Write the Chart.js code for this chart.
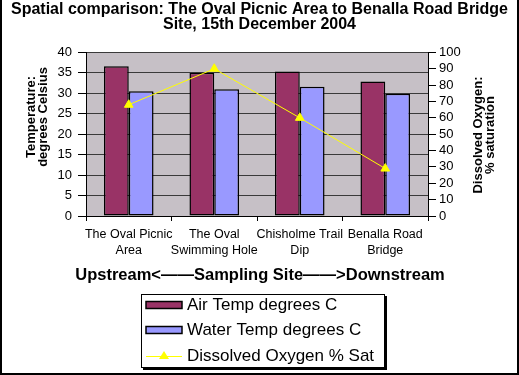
<!DOCTYPE html>
<html>
<head>
<meta charset="utf-8">
<script src="https://cdn.jsdelivr.net/npm/chart.js@4.4.1/dist/chart.umd.min.js"></script>
<style>
  body { margin: 0; background: #fff; }
  #wrap { width: 519px; height: 375px; }
</style>
</head>
<body>
<div id="wrap"><canvas id="chart" width="519" height="375"></canvas></div>
<script>
// values
const sites = [
    ['The Oval Picnic', 'Area'],
    ['The Oval', 'Swimming Hole'],
    ['Chisholme Trail', 'Dip'],
    ['Benalla Road', 'Bridge']
];
const airTemp = [36.6, 35.0, 35.3, 32.9];
const waterTemp = [30.5, 31.0, 31.6, 29.9];
const dissolvedOxygen = [68, 90, 60, 29];

const titleLines = ['Spatial comparison: The Oval Picnic Area to Benalla Road Bridge', 'Site, 15th December 2004'];
const leftTitle = ['Temperature:', 'degrees Celsius'];
const rightTitle = ['Dissolved Oxygen:', '% saturation'];
const xTitle = 'Upstream<\u2014\u2014Sampling Site\u2014\u2014>Downstream';

const FONT = '"Liberation Sans", Arial, sans-serif';

// grey plot background, frame, axis titles and the boxed legend
const decorations = {
    id: 'decorations',
    beforeDraw(chart) {
        const { ctx, chartArea: a } = chart;
        ctx.save();
        ctx.fillStyle = '#fff';
        ctx.fillRect(0, 0, chart.width, chart.height);
        ctx.fillStyle = '#c6c0c6';
        ctx.fillRect(a.left, a.top, a.right - a.left, a.bottom - a.top);
        ctx.restore();
    },
    afterDraw(chart) {
        const { ctx } = chart;
        ctx.save();

        // axis titles, both read bottom to top
        ctx.fillStyle = '#000';
        ctx.font = 'bold 13px ' + FONT;
        ctx.textAlign = 'center';
        ctx.textBaseline = 'middle';
        const drawVertical = (lines, cx, cy) => {
            ctx.save();
            ctx.translate(cx, cy);
            ctx.rotate(-Math.PI / 2);
            lines.forEach((t, i) => {
                ctx.fillText(t, 0, (i - (lines.length - 1) / 2) * 12);
            });
            ctx.restore();
        };
        drawVertical(leftTitle, 37, 117);
        drawVertical(rightTitle, 484, 135);

        // x title is wider than the plot, so it is drawn here (scale titles get squeezed)
        ctx.font = 'bold 16.5px ' + FONT;
        ctx.fillText(xTitle, 260, 275);

        // legend
        const lx = 141, ly = 294, lw = 244, lh = 74;
        ctx.fillStyle = '#000';
        ctx.fillRect(lx + 2, ly + lh, lw, 2);
        ctx.fillRect(lx + lw, ly + 2, 2, lh);
        ctx.fillStyle = '#fff';
        ctx.fillRect(lx, ly, lw, lh);
        ctx.strokeStyle = '#000';
        ctx.lineWidth = 1;
        ctx.strokeRect(lx + 0.5, ly + 0.5, lw - 1, lh - 1);

        ctx.font = '17px ' + FONT;
        ctx.textAlign = 'left';
        const rows = [305, 330, 356];
        chart.data.datasets.forEach((ds, i) => {
            const y = rows[i];
            if (ds.type === 'line') {
                ctx.strokeStyle = ds.borderColor;
                ctx.beginPath();
                ctx.moveTo(146, y + 0.5);
                ctx.lineTo(182, y + 0.5);
                ctx.stroke();
                ctx.fillStyle = ds.backgroundColor;
                ctx.beginPath();
                ctx.moveTo(164, y - 5);
                ctx.lineTo(169, y + 3);
                ctx.lineTo(159, y + 3);
                ctx.closePath();
                ctx.fill();
            } else {
                ctx.fillStyle = ds.backgroundColor;
                ctx.fillRect(146, y - 3.5, 36, 7);
                ctx.strokeStyle = '#000';
                ctx.lineWidth = 1.5;
                ctx.strokeRect(146, y - 3.5, 36, 7);
                ctx.lineWidth = 1;
            }
            ctx.fillStyle = '#000';
            ctx.fillText(ds.label, 187, y);
        });

        // outer frame (top edge is cropped in the reference)
        ctx.fillStyle = '#000';
        ctx.fillRect(0, 0, 2, chart.height);
        ctx.fillRect(chart.width - 2, 0, 2, chart.height);
        ctx.fillRect(0, chart.height - 2, chart.width, 2);
        ctx.restore();
    }
};

const ctx = document.getElementById('chart').getContext('2d');
const chart = new Chart(ctx, {
    type: 'bar',
    data: {
        labels: sites,
        datasets: [
            {
                label: 'Air Temp degrees C',
                data: airTemp,
                yAxisID: 'y',
                backgroundColor: '#993366',
                borderColor: '#000',
                borderWidth: 1.5,
                borderSkipped: false,
                order: 1
            },
            {
                label: 'Water Temp degrees C',
                data: waterTemp,
                yAxisID: 'y',
                backgroundColor: '#9999ff',
                borderColor: '#000',
                borderWidth: 1.5,
                borderSkipped: false,
                order: 1
            },
            {
                type: 'line',
                label: 'Dissolved Oxygen % Sat',
                data: dissolvedOxygen,
                yAxisID: 'y2',
                borderColor: '#ffff00',
                backgroundColor: '#ffff00',
                borderWidth: 1,
                pointStyle: 'triangle',
                pointRadius: 5,
                pointBorderColor: '#ffff00',
                pointBackgroundColor: '#ffff00',
                tension: 0,
                order: 0
            }
        ]
    },
    options: {
        responsive: false,
        animation: false,
        categoryPercentage: 0.58,
        barPercentage: 1,
        layout: { padding: { top: 0, left: 0, right: 0, bottom: 89 } },
        plugins: {
            legend: { display: false },
            tooltip: { enabled: false },
            title: {
                display: true,
                text: titleLines,
                color: '#000',
                font: { family: FONT, size: 16, weight: 'bold', lineHeight: 0.95 },
                padding: { top: 2, bottom: 20 }
            }
        },
        scales: {
            x: {
                grid: { offset: true, drawOnChartArea: false, tickLength: 5, color: '#000' },
                border: { color: '#000' },
                ticks: {
                    color: '#000',
                    maxRotation: 0,
                    autoSkip: false,
                    padding: 5,
                    font: { family: FONT, size: 12.5, lineHeight: 1.3 }
                },
                afterFit(scale) { scale.height = 70; }
            },
            y: {
                position: 'left',
                min: 0,
                max: 40,
                ticks: {
                    stepSize: 5,
                    autoSkip: false,
                    color: '#000',
                    padding: 6,
                    font: { family: FONT, size: 13 }
                },
                grid: { color: '#3a3a3a', tickColor: '#000', tickLength: 8 },
                border: { color: '#000' },
                afterFit(scale) { scale.width = 86; }
            },
            y2: {
                position: 'right',
                min: 0,
                max: 100,
                ticks: {
                    stepSize: 10,
                    autoSkip: false,
                    color: '#000',
                    padding: 3,
                    font: { family: FONT, size: 13 }
                },
                grid: { drawOnChartArea: false, color: '#000', tickLength: 8 },
                border: { color: '#000' },
                afterFit(scale) { scale.width = 91; }
            }
        }
    },
    plugins: [decorations]
});
</script>
</body>
</html>
